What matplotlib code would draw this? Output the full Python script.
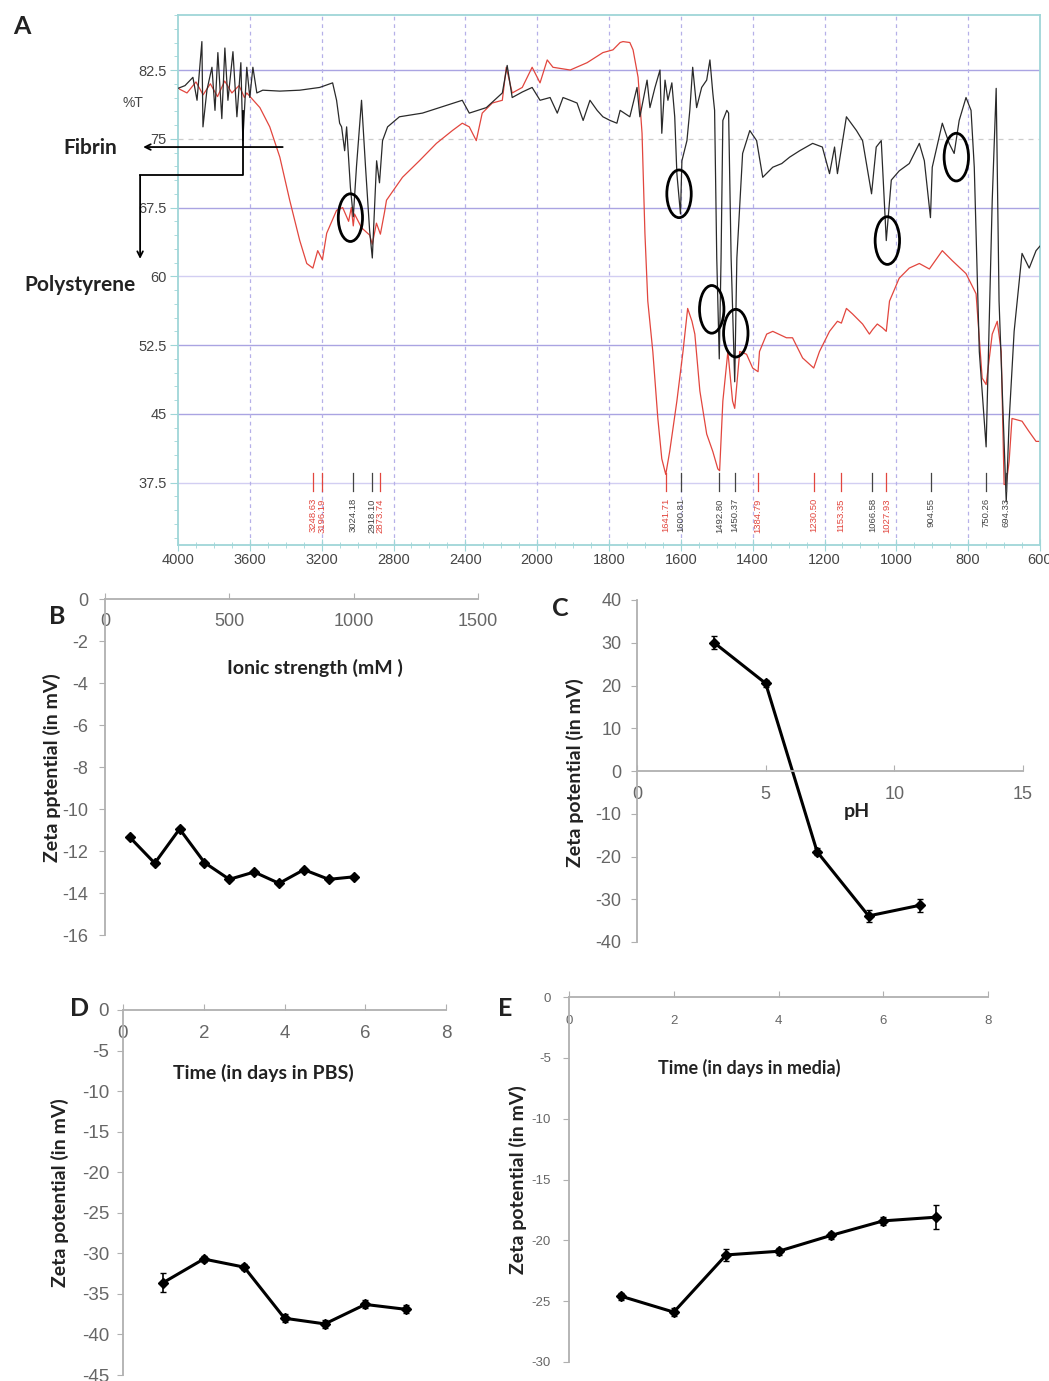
import numpy as np
import matplotlib
matplotlib.use("Agg")
import matplotlib.pyplot as plt
from matplotlib.patches import Ellipse
from matplotlib.ticker import FixedLocator, MultipleLocator

plt.rcParams['font.family'] = ['Liberation Sans', 'DejaVu Sans']
plt.rcParams['axes.unicode_minus'] = False

# ---- panel A: FTIR spectra (%T vs wavenumber) ----
fibrin_wn = [4000, 3961, 3917, 3894, 3867, 3861, 3839, 3811, 3794, 3778,
             3756, 3739, 3722, 3694, 3672, 3650, 3639, 3617, 3600, 3583,
             3561, 3528, 3433, 3322, 3211, 3139, 3117, 3100, 3089, 3072,
             3061, 3040, 3024, 3006, 2978, 2956, 2933, 2918, 2894, 2878,
             2861, 2833, 2767, 2639, 2417, 2378, 2283, 2194, 2167, 2139,
             2083, 2028, 1992, 1964, 1944, 1928, 1908, 1889, 1872, 1853,
             1833, 1817, 1797, 1778, 1769, 1742, 1722, 1714, 1694, 1686,
             1672, 1658, 1653, 1644, 1636, 1625, 1617, 1611, 1601, 1597,
             1583, 1575, 1567, 1556, 1542, 1528, 1519, 1511, 1506, 1500,
             1493, 1488, 1483, 1472, 1467, 1460, 1450, 1444, 1428, 1408,
             1389, 1372, 1344, 1319, 1297, 1269, 1233, 1206, 1186, 1172,
             1164, 1139, 1111, 1094, 1069, 1056, 1042, 1028, 1014, 992,
             964, 936, 922, 905, 900, 872, 853, 839, 825, 806,
             792, 783, 769, 750, 742, 733, 722, 714, 694, 686,
             672, 650, 630, 611, 600]
fibrin_t = [80.5, 80.8, 81.7, 79.2, 85.6, 76.3, 80.3, 82.8, 78.1, 84.4,
            77.2, 84.9, 79.2, 84.5, 77.4, 83.3, 74.8, 82.8, 79.5, 82.8,
            80.0, 80.3, 80.2, 80.3, 80.6, 81.1, 79.2, 76.7, 76.3, 73.7,
            76.3, 69.7, 66.5, 72.0, 79.2, 72.0, 65.0, 62.0, 72.6, 70.2,
            74.8, 76.3, 77.4, 77.8, 79.2, 77.8, 78.4, 80.0, 83.0, 79.5,
            80.1, 80.6, 79.2, 79.5, 77.8, 79.5, 79.2, 78.9, 77.0, 79.2,
            78.1, 77.4, 77.0, 76.7, 78.1, 77.4, 80.6, 77.4, 81.4, 78.4,
            80.6, 82.5, 75.6, 81.4, 79.2, 81.1, 77.4, 71.2, 66.8, 72.6,
            74.8, 78.1, 82.8, 78.4, 80.6, 81.4, 83.6, 80.0, 78.1, 62.0,
            51.0, 62.0, 77.0, 78.1, 77.8, 62.0, 48.5, 62.0, 73.4, 75.9,
            74.8, 70.8, 71.9, 72.3, 73.0, 73.7, 74.5, 74.1, 71.2, 74.1,
            71.2, 77.4, 75.9, 74.8, 69.0, 74.1, 74.8, 63.9, 70.5, 71.5,
            72.3, 74.5, 72.6, 66.4, 71.9, 76.7, 74.5, 73.4, 77.0, 79.5,
            78.1, 71.9, 51.8, 41.4, 54.0, 68.3, 80.5, 57.3, 35.4, 44.2,
            54.0, 62.5, 60.9, 62.8, 63.3]

ps_wn = [4000, 3950, 3900, 3860, 3820, 3780, 3740, 3700, 3660, 3630,
         3617, 3544, 3489, 3433, 3378, 3322, 3283, 3249, 3222, 3196,
         3172, 3117, 3083, 3050, 3035, 3024, 3017, 2978, 2933, 2918,
         2895, 2873, 2850, 2839, 2750, 2656, 2561, 2472, 2417, 2378,
         2339, 2306, 2250, 2194, 2172, 2139, 2083, 2028, 1992, 1972,
         1956, 1908, 1861, 1817, 1789, 1769, 1761, 1742, 1733, 1719,
         1708, 1700, 1692, 1678, 1664, 1653, 1642, 1631, 1611, 1594,
         1581, 1569, 1561, 1547, 1528, 1511, 1497, 1492, 1483, 1469,
         1456, 1450, 1436, 1417, 1400, 1385, 1381, 1361, 1344, 1306,
         1289, 1261, 1230, 1214, 1186, 1164, 1153, 1139, 1122, 1094,
         1075, 1066, 1053, 1039, 1028, 1019, 992, 964, 936, 908,
         872, 844, 806, 778, 761, 750, 733, 719, 708, 700,
         694, 686, 678, 650, 631, 611, 600]
ps_t = [80.5, 80.0, 81.2, 79.8, 81.0, 79.6, 81.3, 80.0, 80.8, 79.5,
        80.0, 78.4, 76.3, 73.0, 68.3, 63.9, 61.4, 60.9, 62.8, 61.8,
        64.7, 67.2, 67.5, 66.0, 67.5, 65.5, 66.8, 65.3, 64.5, 63.5,
        65.8, 64.6, 67.0, 68.3, 70.8, 72.6, 74.5, 75.9, 76.7, 76.3,
        74.8, 77.8, 78.9, 79.2, 82.8, 80.0, 80.6, 82.8, 81.1, 83.6,
        82.8, 82.5, 83.3, 84.4, 84.7, 85.5, 85.6, 85.5, 84.7, 81.7,
        75.6, 64.7, 57.3, 51.8, 44.5, 40.1, 38.4, 40.9, 46.4, 51.8,
        56.5, 55.1, 53.7, 47.5, 42.8, 40.9, 39.0, 38.8, 46.4, 51.8,
        46.4, 45.6, 51.8, 51.5, 50.0, 49.6, 51.8, 53.7, 54.0, 53.3,
        53.3, 51.1, 50.0, 51.8, 54.0, 55.1, 54.9, 56.5, 55.9, 54.8,
        53.7, 54.2, 54.8, 54.4, 54.0, 57.3, 59.8, 60.9, 61.4, 60.8,
        62.8, 61.7, 60.3, 58.1, 48.9, 48.2, 53.7, 55.1, 51.8, 37.3,
        37.3, 39.8, 44.5, 44.2, 43.1, 42.0, 42.0]

peak_wn = [3248.63, 3196.19, 3024.18, 2918.10, 2873.74, 1641.71, 1600.81,
           1492.80, 1450.37, 1384.79, 1230.50, 1153.35, 1066.58, 1027.93,
           904.55, 750.26, 694.33]
peak_src = ['ps', 'ps', 'fib', 'fib', 'ps', 'ps', 'fib',
            'fib', 'fib', 'ps', 'ps', 'ps', 'fib', 'ps',
            'fib', 'fib', 'fib']
circled_wn = [3040, 1605, 1514, 1447, 1025, 833]
circled_t = [66.4, 69.0, 56.4, 53.8, 63.9, 73.0]

xticks_a = [4000, 3600, 3200, 2800, 2400, 2000, 1800, 1600, 1400, 1200, 1000, 800, 600]
yticks_a = [37.5, 45, 52.5, 60, 67.5, 75, 82.5]
ytick_lbl_a = ['37.5', '45', '52.5', '60', '67.5', '75', '82.5']

# ---- panels B-E: zeta potential ----
ionic_mm = [100, 200, 300, 400, 500, 600, 700, 800, 900, 1000]
zeta_ionic = [-11.35, -12.58, -10.95, -12.55, -13.35, -13.0, -13.54, -12.89, -13.35, -13.23]

ph_vals = [3, 5, 7, 9, 11]
zeta_ph = [30.0, 20.5, -18.9, -33.9, -31.4]
err_ph = [1.5, 0.8, 0.8, 1.5, 1.5]

days_pbs = [1, 2, 3, 4, 5, 6, 7]
zeta_pbs = [-33.6, -30.7, -31.7, -38.0, -38.7, -36.3, -36.9]
err_pbs = [1.2, 0.4, 0.4, 0.5, 0.5, 0.5, 0.5]

days_media = [1, 2, 3, 4, 5, 6, 7]
zeta_media = [-24.6, -25.9, -21.2, -20.9, -19.6, -18.4, -18.1]
err_media = [0.3, 0.3, 0.5, 0.3, 0.3, 0.3, 1.0]

W, H = 1049, 1381
fig = plt.figure(figsize=(W / 100, H / 100), dpi=100)


def fx(px):
    return px / W


def fy(py):
    return 1 - py / H


# wavenumber axis: 4000-2000 is drawn at half the scale of 2000-600
def fwd(w):
    w = np.asarray(w, dtype=float)
    return np.where(w > 2000, 2000 + (w - 2000) * 0.5, w)


def inv(u):
    u = np.asarray(u, dtype=float)
    return np.where(u > 2000, 2000 + (u - 2000) * 2.0, u)


frame_col = '#9fd6d8'
red = '#e2463e'
blk = '#2a2a2a'

axA = fig.add_axes([fx(178), fy(545), fx(1040) - fx(178), fy(15) - fy(545)])
axA.set_xscale('function', functions=(fwd, inv))
axA.set_xlim(4000, 600)
axA.set_ylim(30.7, 88.5)

for t in [82.5, 67.5, 52.5, 45]:
    axA.axhline(t, color='#aaa4e2', lw=1.0, zorder=0)
for t in [60, 37.5]:
    axA.axhline(t, color='#d2cef2', lw=1.0, zorder=0)
axA.axhline(75, color='#cccccc', lw=0.9, ls=(0, (4, 4)), zorder=0)
for w in xticks_a[1:-1]:
    axA.axvline(w, color='#b6b0e8', lw=0.9, ls=(0, (3, 3)), zorder=0)

axA.plot(ps_wn, ps_t, color=red, lw=0.9, zorder=2)
axA.plot(fibrin_wn, fibrin_t, color=blk, lw=0.9, zorder=3)

for w, t in zip(circled_wn, circled_t):
    wd = 135 if w > 2000 else 68
    axA.add_patch(Ellipse((w, t), wd, 5.2, fill=False, ec='black', lw=2.0, zorder=4))

for w, src in zip(peak_wn, peak_src):
    c = red if src == 'ps' else '#444444'
    axA.plot([w, w], [36.6, 38.5], color=c, lw=0.9, zorder=3)
    axA.text(w, 35.8, f'{w:.2f}', rotation=90, ha='center', va='top',
             fontsize=6.8, color=c, zorder=3)

axA.set_xticks(xticks_a)
axA.set_xticklabels([str(v) for v in xticks_a])
minor_x = [v for v in range(3900, 2000, -100) if v % 400] + \
          [v for v in range(1950, 600, -50) if v % 200]
axA.xaxis.set_minor_locator(FixedLocator(minor_x))
axA.set_yticks(yticks_a)
axA.set_yticklabels(ytick_lbl_a)
axA.yaxis.set_minor_locator(MultipleLocator(1.5))
axA.tick_params(axis='x', which='major', direction='inout', length=8, color=frame_col,
                labelsize=10.5, labelcolor='#444444', pad=2)
axA.tick_params(axis='x', which='minor', direction='inout', length=4, color=frame_col)
axA.tick_params(axis='y', which='major', direction='out', length=6, color=frame_col,
                labelsize=10.5, labelcolor='#444444', pad=2)
axA.tick_params(axis='y', which='minor', direction='out', length=3, color=frame_col)
for s in axA.spines.values():
    s.set_color(frame_col)
    s.set_linewidth(1.3)

fig.text(fx(133), fy(103), '%T', fontsize=10, color='#444444', ha='center', va='center')

# annotation arrows
axA.annotate('', xy=(4194, 74.1), xytext=(3417, 74.1), annotation_clip=False,
             arrowprops=dict(arrowstyle='->', lw=1.3, color='black', shrinkA=0, shrinkB=0))
axA.plot([3639, 3639, 4211], [78.0, 71.0, 71.0], color='black', lw=1.3, clip_on=False, zorder=5)
axA.annotate('', xy=(4211, 61.9), xytext=(4211, 71.0), annotation_clip=False,
             arrowprops=dict(arrowstyle='->', lw=1.3, color='black', shrinkA=0, shrinkB=0))

lab_font = dict(family=['Lato', 'DejaVu Sans'], fontweight='bold', color='#222222')
fig.text(fx(90), fy(148), 'Fibrin', fontsize=15, ha='center', va='center', **lab_font)
fig.text(fx(80), fy(285), 'Polystyrene', fontsize=15, ha='center', va='center', **lab_font)

for letter, px, py in [('A', 22, 26), ('B', 57, 617), ('C', 560, 609),
                       ('D', 80, 1009), ('E', 505, 1008)]:
    fig.text(fx(px), fy(py), letter, fontsize=18, ha='center', va='center', **lab_font)


def zeta_axes(x0, x1, y0, y1, xlim, ylim, xticks, yticks, fs, xpad, ypad):
    ax = fig.add_axes([fx(x0), fy(y1), fx(x1) - fx(x0), fy(y0) - fy(y1)])
    ax.set_xlim(xlim)
    ax.set_ylim(ylim)
    ax.spines['top'].set_visible(False)
    ax.spines['right'].set_visible(False)
    ax.spines['bottom'].set_position(('data', 0))
    for s in ['left', 'bottom']:
        ax.spines[s].set_color('#b0b0b0')
        ax.spines[s].set_linewidth(1.3)
    ax.set_xticks(xticks)
    ax.set_yticks(yticks)
    ax.tick_params(axis='x', direction='in', length=4, color='#b0b0b0',
                   labelsize=fs, labelcolor='#666666', pad=xpad)
    ax.tick_params(axis='y', direction='out', length=4, color='#b0b0b0',
                   labelsize=fs, labelcolor='#666666', pad=ypad)
    ax.patch.set_alpha(0)
    return ax


line_kw = dict(color='black', lw=2.2, marker='D', ms=5.5, capsize=2.5,
               elinewidth=1.2, ecolor='black')

axB = zeta_axes(105, 478, 599, 935, (0, 1500), (-16, 0), [0, 500, 1000, 1500],
                list(range(-16, 1, 2)), 13, 10, 8)
axB.plot(ionic_mm, zeta_ionic, color='black', lw=2.2, marker='D', ms=5.5)

axC = zeta_axes(637, 1023, 600, 942, (0, 15), (-40, 40), [0, 5, 10, 15],
                list(range(-40, 41, 10)), 13, 11, 7)
axC.errorbar(ph_vals, zeta_ph, yerr=err_ph, **line_kw)

axD = zeta_axes(123, 446, 1010, 1375, (0, 8), (-45, 0), [0, 2, 4, 6, 8],
                list(range(-45, 1, 5)), 13.5, 11, 6)
axD.errorbar(days_pbs, zeta_pbs, yerr=err_pbs, **line_kw)

axE = zeta_axes(569, 988, 997, 1362, (0, 8), (-30, 0), [0, 2, 4, 6, 8],
                list(range(-30, 1, 5)), 9.5, 13, 9)
axE.errorbar(days_media, zeta_media, yerr=err_media, **line_kw)

ylab_kw = dict(rotation=90, ha='center', va='center', fontsize=14, **lab_font)
fig.text(fx(52), fy(768), 'Zeta pptential (in mV)', **ylab_kw)
fig.text(fx(575), fy(773), 'Zeta potential (in mV)', **ylab_kw)
fig.text(fx(60), fy(1193), 'Zeta potential (in mV)', **ylab_kw)
fig.text(fx(518), fy(1180), 'Zeta potential (in mV)', **ylab_kw)

fig.text(fx(315), fy(668), 'Ionic strength (mM )', fontsize=14, ha='center', va='center', **lab_font)
fig.text(fx(857), fy(812), 'pH', fontsize=14, ha='center', va='center', **lab_font)
fig.text(fx(263), fy(1073), 'Time (in days in PBS)', fontsize=14, ha='center', va='center', **lab_font)
fig.text(fx(749), fy(1068), 'Time (in days in media)', fontsize=13, ha='center', va='center', **lab_font)

fig.savefig('out.png', dpi=100)
